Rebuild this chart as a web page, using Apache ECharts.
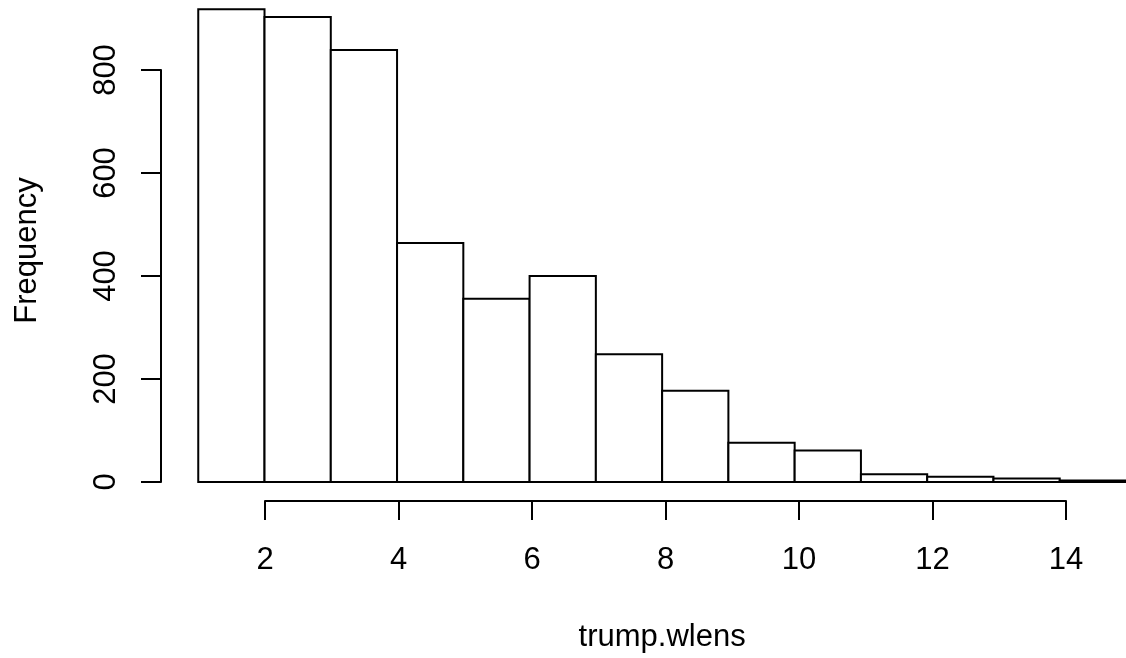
<!DOCTYPE html>
<html>
<head>
<meta charset="utf-8">
<script src="https://cdn.jsdelivr.net/npm/echarts@6/dist/echarts.min.js"></script>
<style>
html,body{margin:0;padding:0;background:#fff;}
#chart{width:1126px;height:658px;}
</style>
</head>
<body>
<div id="chart"></div>
<script>
// Histogram bin edges (word length) and their counts
const binStarts = [1, 2, 3, 4, 5, 6, 7, 8, 9, 10, 11, 12, 13, 14];
const binEnds   = [2, 3, 4, 5, 6, 7, 8, 9, 10, 11, 12, 13, 14, 15];
const counts    = [918, 903, 839, 464, 356, 400, 248, 177, 76, 61, 15, 10, 7, 3];
const xTickMin = 2, xTickMax = 14, xTickStep = 2;
const yTickMin = 0, yTickMax = 800, yTickStep = 200;
const xTitle = 'trump.wlens';
const yTitle = 'Frequency';

const FONT = 'Liberation Sans, Arial, Helvetica, sans-serif';
const FS = 31;
const LW = 2;
const histData = counts.map((c, i) => [binStarts[i], binEnds[i], c]);

const chart = echarts.init(document.getElementById('chart'), null, {renderer:'canvas'});
chart.setOption({
  backgroundColor: '#ffffff',
  animation: false,
  grid: [
    {left: 198.25, width: 934.5, top: 70, height: 412},
    {left: 265, width: 801, top: -9.7, height: 510.7}
  ],
  xAxis: [
    {
      type: 'value', gridIndex: 0, min: binStarts[0], max: binEnds[binEnds.length - 1],
      axisLine: {show: false}, axisTick: {show: false}, axisLabel: {show: false},
      splitLine: {show: false},
      name: xTitle, nameLocation: 'middle', nameGap: 140,
      nameTextStyle: {fontFamily: FONT, fontSize: FS, color: '#000'}
    },
    {
      type: 'value', gridIndex: 1, min: xTickMin, max: xTickMax, interval: xTickStep,
      axisLine: {show: true, lineStyle: {color: '#000', width: LW}},
      axisTick: {show: true, inside: false, length: 19, lineStyle: {color: '#000', width: LW}},
      axisLabel: {show: true, margin: 44, fontFamily: FONT, fontSize: FS, color: '#000'},
      splitLine: {show: false}
    }
  ],
  yAxis: [
    {
      type: 'value', gridIndex: 0, min: yTickMin, max: yTickMax, interval: yTickStep,
      offset: 37.25,
      axisLine: {show: true, lineStyle: {color: '#000', width: LW}},
      axisTick: {show: true, inside: false, length: 20, lineStyle: {color: '#000', width: LW}},
      axisLabel: {show: true, rotate: 90, margin: 39, fontFamily: FONT, fontSize: FS, color: '#000'},
      splitLine: {show: false}
    },
    {
      type: 'value', gridIndex: 1, min: 0, max: 1, offset: 104,
      axisLine: {show: false}, axisTick: {show: false}, axisLabel: {show: false},
      splitLine: {show: false},
      name: yTitle, nameLocation: 'middle', nameGap: 118,
      nameTextStyle: {fontFamily: FONT, fontSize: FS, color: '#000'}
    }
  ],
  series: [
    {
      type: 'custom', xAxisIndex: 0, yAxisIndex: 0, data: histData, clip: false,
      encode: {x: [0, 1], y: 2},
      renderItem: function (params, api) {
        const p0 = api.coord([api.value(0), 0]);
        const p1 = api.coord([api.value(1), api.value(2)]);
        return {
          type: 'rect',
          shape: {x: p0[0], y: p1[1], width: p1[0] - p0[0], height: p0[1] - p1[1]},
          style: {fill: '#ffffff', stroke: '#000000', lineWidth: LW}
        };
      },
      silent: true
    },
    {
      type: 'line', xAxisIndex: 1, yAxisIndex: 1, data: [], silent: true
    }
  ]
});
</script>
</body>
</html>
